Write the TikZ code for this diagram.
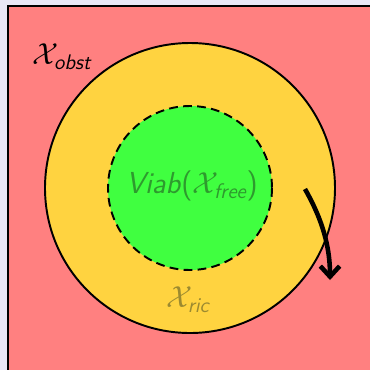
\documentclass[tikz,border=0pt]{standalone}
\usepackage{amsmath,amssymb}
\usetikzlibrary{arrows.meta,positioning}
\definecolor{bgcol}{HTML}{E9E7F6}
\definecolor{obstcol}{HTML}{FF8080}
\definecolor{riccol}{HTML}{FFD340}
\definecolor{freecol}{HTML}{40FF40}
\definecolor{viabtext}{HTML}{2E9A2E}
\definecolor{rictext}{HTML}{9C8A30}
\newcommand{\sfit}[1]{\textsf{\itshape #1}}

\begin{document}
\begin{tikzpicture}[
    x=0.02cm, y=-0.02cm,
    region/.style={draw=black, line width=1.1pt},
    setlabel/.style={font=\LARGE, inner sep=0pt},
  ]

  \useasboundingbox (0,0) rectangle (370,370);
  \fill[bgcol] (0,0) rectangle (370,370);

  % Obstacle set
  \filldraw[obstcol, draw=black, line width=1.2pt]
    (8,6) rectangle (380,380);

  % Ric set
  \filldraw[region, fill=riccol] (190,188) circle[radius=145];

  % Viability kernel of the free set
  \filldraw[region, fill=freecol, dashed, dash pattern=on 5pt off 3pt]
    (190,188) circle[radius=82];

  % Labels
  \node[setlabel] (obst) at (62,57) {$\mathcal{X}_{\sfit{obst}}$};
  \node[setlabel, text=viabtext] (viab) at (192,186)
    {\sfit{Viab}$\textsf{(}\mathcal{X}_{\sfit{free}}\textsf{)}$};
  \node[setlabel, text=rictext] (ric) at (188,300)
    {$\mathcal{X}_{\sfit{ric}}$};

  % Trajectory leaving
  \coordinate (start) at (305,189);
  \coordinate (stop) at (330,280);
  \draw[line width=2.6pt, -{Straight Barb[length=6pt, width=11pt]}]
    (start) .. controls (318,212) and (330,240) .. (stop);

\end{tikzpicture}
\end{document}
